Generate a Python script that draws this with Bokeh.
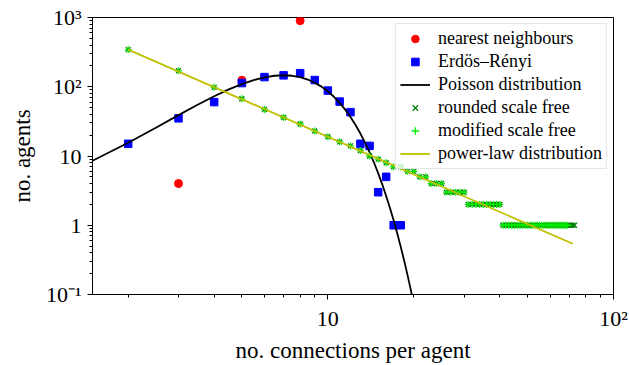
from bokeh.plotting import figure
from bokeh.models import FixedTicker, Legend, LegendItem
from bokeh.embed import file_html
from bokeh.resources import INLINE

# ---- data ----
nn_x = [3, 5, 8]
nn_y = [4, 124, 900]

er_x = [2, 3, 4, 5, 6, 7, 8, 9, 10, 11, 12, 13, 14, 15, 16, 17, 18]
er_y = [15, 35, 60, 113, 138, 146, 157, 125, 88, 61, 43, 15, 14, 3, 5, 1, 1]

poisson_x = [1, 1.5, 2, 2.5, 3, 3.5, 4, 4.5, 5, 5.5, 6, 6.5, 7, 7.5, 8, 8.5, 9, 9.5,
             10, 10.5, 11, 11.5, 12, 12.5, 13, 13.5, 14, 14.5, 15, 15.5, 16, 16.5,
             17, 17.5, 18, 18.5, 19, 19.5, 20]
poisson_y = [4.15, 8.55, 15.56, 25.64, 38.89, 54.94, 72.92, 91.56, 109.4, 124.9, 136.7,
             144.1, 146.5, 144.1, 137.3, 127.1, 114.4, 100.4, 85.83, 71.68, 58.52, 46.75,
             36.58, 28.05, 21.10, 15.58, 11.30, 8.06, 5.65, 3.90, 2.65, 1.773, 1.169,
             0.760, 0.487, 0.308, 0.192, 0.1185, 0.0721]

rounded_x = list(range(2, 74))
rounded_y = ([344, 170, 98, 67, 47, 36, 29, 23, 19, 16, 14, 12, 10, 9, 8, 7, 7, 6, 6,
              5, 5, 4, 4, 4] + [3] * 5 + [2] * 10 + [1] * 33)

modified_x = list(range(2, 70))
modified_y = rounded_y[:len(modified_x)]

powerlaw_x = [2, 72]
powerlaw_y = [344, 0.54]

y_major = [0.1, 1, 10, 100, 1000]
y_labels = {0.1: "10⁻¹", 1: "1", 10: "10", 100: "10²", 1000: "10³"}
x_major = [1, 10, 100]
x_labels = {1: "1", 10: "10", 100: "10²"}

# ---- figure ----
p = figure(width=629, height=365, x_axis_type="log", y_axis_type="log",
           x_range=(1.5, 100), y_range=(0.1, 1000),
           output_backend="svg", toolbar_location=None,
           min_border_left=92, min_border_right=16, min_border_top=17, min_border_bottom=69)
p.background_fill_color = "white"
p.border_fill_color = "white"
p.outline_line_color = "black"
p.outline_line_width = 1
p.grid.visible = False

r_nn = p.scatter(nn_x, nn_y, marker="circle", size=8, color="#ff0000")
r_er = p.scatter(er_x, er_y, marker="square", size=7.5, color="#0000ff")
r_po = p.line(poisson_x, poisson_y, line_color="black", line_width=1.8)
r_ro = p.scatter(rounded_x, rounded_y, marker="x", size=7, line_color="#008000", line_width=1.3)
r_mo = p.scatter(modified_x, modified_y, marker="cross", size=7, line_color="#00ee00", line_width=1.3)
r_pl = p.line(powerlaw_x, powerlaw_y, line_color="#bfbf00", line_width=1.8)

font = "Liberation Serif"
y_minor = [m * 10.0 ** e for e in (-1, 0, 1, 2) for m in range(2, 10)]
x_minor = [m * 10.0 ** e for e in (0, 1) for m in range(2, 10)]

p.yaxis.ticker = FixedTicker(ticks=y_major, minor_ticks=y_minor)
p.xaxis.ticker = FixedTicker(ticks=x_major, minor_ticks=x_minor)
p.yaxis.major_label_overrides = y_labels
p.xaxis.major_label_overrides = x_labels

for ax in (p.xaxis, p.yaxis):
    ax.axis_line_color = "black"
    ax.major_tick_line_color = "black"
    ax.minor_tick_line_color = "black"
    ax.major_tick_in = 0
    ax.major_tick_out = 5
    ax.minor_tick_in = 0
    ax.minor_tick_out = 3
    ax.major_label_text_font = font
    ax.major_label_text_font_size = "22px"
    ax.major_label_text_color = "black"
    ax.axis_label_text_font = font
    ax.axis_label_text_font_size = "23px"
    ax.axis_label_text_font_style = "normal"
    ax.axis_label_text_color = "black"

p.xaxis.axis_label = "no. connections per agent"
p.yaxis.axis_label = "no. agents"
p.xaxis.major_label_standoff = 6
p.yaxis.major_label_standoff = 6
p.xaxis.axis_label_standoff = 4
p.yaxis.axis_label_standoff = 8

legend = Legend(items=[
    LegendItem(label="nearest neighbours", renderers=[r_nn]),
    LegendItem(label="Erdös–Rényi", renderers=[r_er]),
    LegendItem(label="Poisson distribution", renderers=[r_po]),
    LegendItem(label="rounded scale free", renderers=[r_ro]),
    LegendItem(label="modified scale free", renderers=[r_mo]),
    LegendItem(label="power-law distribution", renderers=[r_pl]),
], location="top_right")
legend.margin = 6
legend.padding = 4
legend.spacing = 2
legend.label_height = 19
legend.glyph_height = 19
legend.glyph_width = 30
legend.label_standoff = 8
legend.label_text_font = font
legend.label_text_font_size = "18px"
legend.label_text_color = "black"
legend.border_line_color = "#cccccc"
legend.border_line_width = 1
legend.background_fill_color = "white"
legend.background_fill_alpha = 0.8
p.add_layout(legend)

open("out.html", "w").write(file_html(p, INLINE))
